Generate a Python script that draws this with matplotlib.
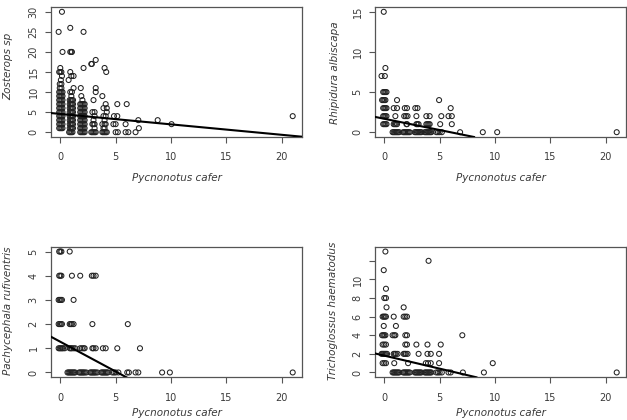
#!/usr/bin/env python3
"""
Four scatter panels: bird counts against Pycnonotus cafer, with fitted lines.
Output: out.png (627x420px)
"""

import matplotlib
matplotlib.use("Agg")
import matplotlib.pyplot as plt

# ─── DATA ─────────────────────────────────────────────────────────────────────
# each row: (count on y axis, [Pycnonotus cafer values seen at that count])

zost_rows = [
    (0,  [0.8, 0.9, 1.0, 1.1, 1.8, 1.9, 2.0, 2.1, 2.2, 2.8, 2.9, 3.0, 3.1, 3.2,
          3.8, 3.9, 4.0, 4.1, 4.2, 5.0, 5.2, 5.9, 6.15, 6.8]),
    (1,  [-0.1, 0.0, 0.1, 0.2, 0.85, 0.95, 1.05, 1.15, 1.8, 1.9, 2.0, 2.1, 2.2,
          3.1, 3.9, 4.0, 7.1]),
    (2,  [-0.1, 0.0, 0.1, 0.2, 0.85, 0.95, 1.05, 1.15, 1.8, 1.9, 2.0, 2.1, 2.2,
          2.9, 3.0, 3.1, 3.8, 4.0, 4.1, 4.8, 5.0, 5.9, 10.05]),
    (3,  [-0.1, 0.0, 0.1, 0.2, 0.85, 0.95, 1.05, 1.15, 1.8, 1.9, 2.0, 2.1, 2.2,
          3.0, 4.0, 7.05, 8.8]),
    (4,  [-0.1, 0.0, 0.1, 0.2, 0.85, 0.95, 1.05, 1.15, 1.8, 1.9, 2.0, 2.1, 2.2,
          3.1, 3.9, 4.1, 4.85, 5.15, 21.0]),
    (5,  [-0.1, 0.0, 0.1, 0.2, 0.85, 0.95, 1.05, 1.15, 1.8, 1.9, 2.0, 2.1, 2.2,
          2.9, 3.1, 4.2]),
    (6,  [-0.1, 0.0, 0.1, 0.2, 0.85, 0.95, 1.05, 1.15, 1.8, 1.9, 2.0, 2.1, 2.2,
          3.9, 4.2]),
    (7,  [-0.1, 0.0, 0.1, 0.2, 0.85, 0.95, 1.05, 1.15, 1.8, 1.9, 2.0, 2.1, 2.2,
          4.1, 5.15, 6.0]),
    (8,  [-0.1, 0.0, 0.1, 0.2, 0.85, 0.95, 1.05, 1.15, 2.0, 3.0]),
    (9,  [-0.1, 0.0, 0.1, 0.2, 1.0, 1.9, 3.8]),
    (10, [-0.1, 0.0, 0.1, 0.2, 0.9, 1.05, 3.2]),
    (11, [-0.05, 0.1, 1.2, 1.85, 3.2]),
    (12, [-0.05, 0.1]),
    (13, [0.05, 0.75]),
    (14, [0.15, 1.0, 1.2]),
    (15, [-0.1, 0.0, 0.1, 0.9, 4.15]),
    (16, [0.0, 2.1, 4.0]),
    (17, [2.8, 2.85]),
    (18, [3.2]),
    (20, [0.2, 0.9, 1.0, 1.05]),
    (25, [-0.15, 2.1]),
    (26, [0.9]),
    (30, [0.15]),
]

rhip_rows = [
    (0,  [0.75, 0.85, 0.95, 1.05, 1.15, 1.25, 1.35, 1.7, 1.8, 1.9, 2.0, 2.1, 2.2, 2.3,
          2.75, 2.85, 2.95, 3.05, 3.15, 3.25, 3.35, 3.65, 3.75, 3.85, 3.95, 4.05,
          4.15, 4.25, 4.7, 4.85, 5.0, 5.2, 6.85, 8.9, 10.2, 21.0]),
    (1,  [-0.1, 0.0, 0.1, 0.2, 0.85, 0.95, 1.05, 1.15, 2.0, 2.05, 2.9, 3.0, 3.1,
          3.8, 3.9, 4.0, 4.1, 5.05, 6.1]),
    (2,  [-0.1, 0.0, 0.1, 0.2, 1.0, 1.8, 1.95, 2.1, 2.9, 3.8, 4.1, 5.15, 5.8, 6.1]),
    (3,  [-0.1, 0.0, 0.1, 0.2, 0.85, 1.15, 1.85, 2.05, 2.8, 3.0, 6.0]),
    (4,  [-0.2, -0.1, 0.0, 0.1, 1.15, 4.95]),
    (5,  [-0.1, 0.0, 0.1, 0.2]),
    (7,  [-0.25, 0.05]),
    (8,  [0.1]),
    (15, [-0.05]),
]

pach_rows = [
    (0, [0.65, 0.75, 0.85, 0.95, 1.05, 1.15, 1.25, 1.35, 1.7, 1.8, 1.9, 2.0, 2.1,
         2.2, 2.35, 2.7, 2.8, 2.9, 3.0, 3.1, 3.2, 3.35, 3.7, 3.8, 3.9, 4.0, 4.1,
         4.2, 4.3, 4.7, 4.85, 5.0, 5.25, 6.05, 6.2, 6.8, 7.05, 9.2, 9.9, 21.0]),
    (1, [-0.15, -0.05, 0.05, 0.15, 0.25, 0.4, 0.85, 0.95, 1.05, 1.2, 1.35, 1.8,
         1.95, 2.1, 2.2, 2.9, 3.0, 3.2, 3.85, 4.1, 5.15, 7.2]),
    (2, [-0.15, -0.05, 0.05, 0.15, 0.85, 0.95, 1.05, 1.2, 2.9, 6.1]),
    (3, [-0.15, -0.05, 0.05, 0.15, 1.2]),
    (4, [-0.1, 0.0, 0.1, 1.05, 1.8, 2.85, 3.0, 3.2]),
    (5, [-0.1, 0.0, 0.1, 0.85]),
]

tric_rows = [
    (0,  [0.75, 0.85, 0.95, 1.05, 1.15, 1.25, 1.35, 1.7, 1.8, 1.9, 2.0, 2.1, 2.2, 2.3,
          2.75, 2.85, 2.95, 3.05, 3.15, 3.25, 3.35, 3.65, 3.75, 3.85, 3.95, 4.05,
          4.15, 4.25, 4.7, 4.85, 5.0, 5.2, 5.8, 6.0, 7.1, 9.0, 21.0]),
    (1,  [-0.15, 0.0, 0.15, 0.9, 2.15, 3.75, 3.95, 4.2, 4.95, 9.8]),
    (2,  [-0.25, -0.15, -0.05, 0.05, 0.15, 0.25, 0.85, 0.95, 1.05, 1.2, 1.75, 1.85,
          1.95, 2.1, 3.1, 3.9, 4.2, 4.95]),
    (3,  [-0.15, 0.0, 0.15, 1.9, 2.05, 2.9, 3.9, 5.1]),
    (4,  [-0.2, -0.1, 0.0, 0.1, 0.75, 0.9, 1.0, 1.9, 2.05, 7.05]),
    (5,  [-0.05, 1.05]),
    (6,  [-0.15, -0.05, 0.05, 0.15, 0.85, 1.75, 1.9, 2.05]),
    (7,  [0.2, 1.75]),
    (8,  [0.0, 0.15]),
    (9,  [0.15]),
    (11, [-0.05]),
    (12, [4.0]),
    (13, [0.1]),
]

# fitted lines: (intercept, slope)
zost_fit = (4.55, -0.26)
rhip_fit = (1.67, -0.28)
pach_fit = (1.27, -0.246)
tric_fit = (1.81, -0.28)

x_ticks = [0, 5, 10, 15, 20]
zost_yticks = [0, 5, 10, 15, 20, 25, 30]
rhip_yticks = [0, 5, 10, 15]
pach_yticks = [0, 1, 2, 3, 4, 5]
tric_yticks = [0, 2, 4, 6, 8, 10, 12]
tric_ylabels = ["0", "2", "4", "6", "8", "10", ""]

X_NAME = "Pycnonotus cafer"

# ─── STYLE ────────────────────────────────────────────────────────────────────

TEXT = "#3a3a3a"
BOX = "#555555"
PT = "#222222"

W, H = 627, 420
plt.rcParams["font.family"] = "DejaVu Sans"


def expand(rows):
    xs, ys = [], []
    for y, xvals in rows:
        for x in xvals:
            xs.append(x)
            ys.append(y)
    return xs, ys


def panel(fig, rect_px, rows, fit, yticks, ylim, ylabels=None):
    left, top, right, bottom = rect_px
    ax = fig.add_axes([left / W, 1 - bottom / H, (right - left) / W, (bottom - top) / H])
    xs, ys = expand(rows)
    ax.scatter(xs, ys, s=13, facecolors="none", edgecolors=PT, linewidths=0.75, zorder=3)
    ax.axline((0, fit[0]), slope=fit[1], color="black", linewidth=1.5, zorder=4)
    ax.set_xlim(-0.84, 21.84)
    ax.set_ylim(*ylim)
    ax.set_xticks(x_ticks)
    ax.set_yticks(yticks)
    if ylabels is not None:
        ax.set_yticklabels(ylabels)
    ax.tick_params(axis="x", length=4, width=0.8, color=BOX, pad=7,
                   labelsize=7, labelcolor=TEXT)
    ax.tick_params(axis="y", length=4, width=0.8, color=BOX, pad=5,
                   labelsize=7, labelcolor=TEXT, labelrotation=90)
    for lab in ax.get_yticklabels():
        lab.set_verticalalignment("center")
    for sp in ax.spines.values():
        sp.set_color(BOX)
        sp.set_linewidth(0.9)
    return ax


fig = plt.figure(figsize=(W / 100, H / 100), dpi=100)
fig.patch.set_facecolor("white")

panel(fig, (51, 7, 302, 137), zost_rows, zost_fit, zost_yticks, (-1.2, 31.2))
panel(fig, (375, 7, 626, 137), rhip_rows, rhip_fit, rhip_yticks, (-0.6, 15.6))
panel(fig, (51, 246.7, 302, 377.3), pach_rows, pach_fit, pach_yticks, (-0.2, 5.2))
panel(fig, (375, 246.7, 626, 377.3), tric_rows, tric_fit, tric_yticks, (-0.52, 13.52),
      tric_ylabels)

# ── AXIS TITLES ───────────────────────────────────────────────────────────────
lab_kw = dict(fontsize=7.5, color=TEXT, style="italic")
fig.text(176.5 / W, 1 - 178 / H, X_NAME, ha="center", va="center", **lab_kw)
fig.text(500.5 / W, 1 - 178 / H, X_NAME, ha="center", va="center", **lab_kw)
# bottom row titles sit right at the lower edge
fig.text(176.5 / W, 1 - 418.5 / H, X_NAME, ha="center", va="bottom", **lab_kw)
fig.text(500.5 / W, 1 - 418.5 / H, X_NAME, ha="center", va="bottom", **lab_kw)

fig.text(8.5 / W, 1 - 66 / H, "Zosterops sp", rotation=90, ha="center", va="center", **lab_kw)
fig.text(335 / W, 1 - 73 / H, "Rhipidura albiscapa", rotation=90, ha="center", va="center", **lab_kw)
fig.text(8.5 / W, 1 - 311 / H, "Pachycephala rufiventris", rotation=90, ha="center", va="center", **lab_kw)
fig.text(333 / W, 1 - 311 / H, "Trichoglossus haematodus", rotation=90, ha="center", va="center", **lab_kw)

fig.savefig("out.png", dpi=100, facecolor="white")
plt.close(fig)
